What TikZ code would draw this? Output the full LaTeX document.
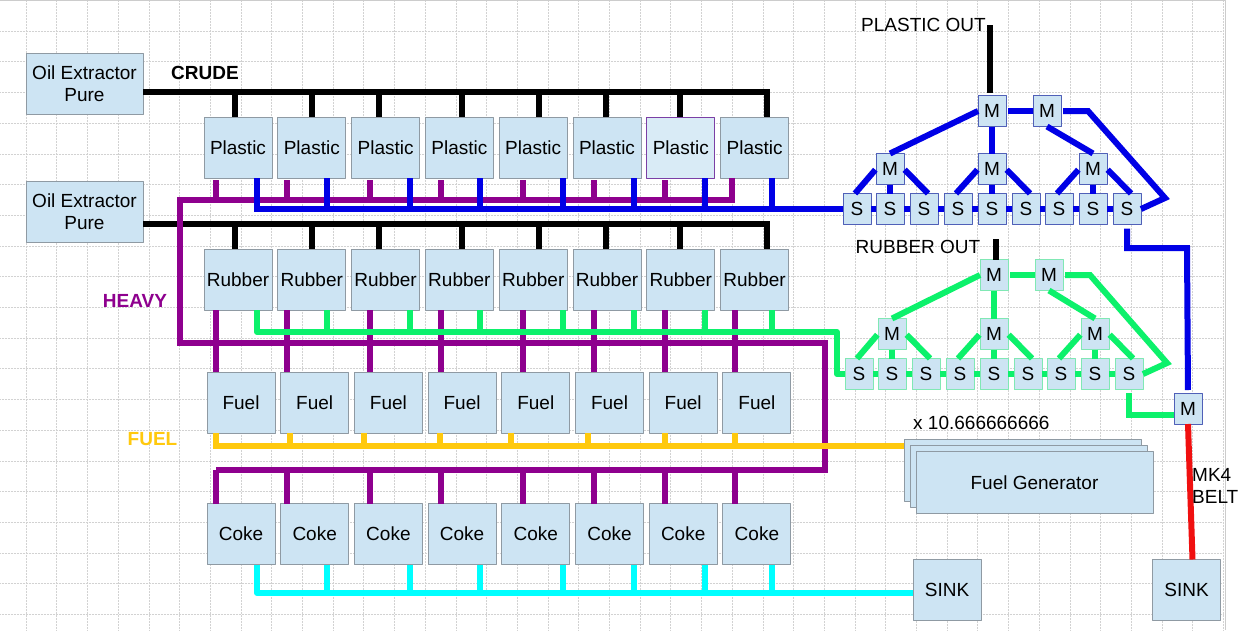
\documentclass[tikz,border=0pt]{standalone}
\usepackage{fontspec}
\setmainfont{Liberation Sans}
\definecolor{boxfill}{HTML}{CDE4F3}
\definecolor{boxedge}{HTML}{8F9AA3}
\definecolor{seledge}{HTML}{7B3FA5}
\definecolor{wireblue}{HTML}{0000E6}
\definecolor{wireheavy}{HTML}{8E008E}
\definecolor{wiregreen}{HTML}{0CF16B}
\definecolor{wirefuel}{HTML}{FFC90E}
\definecolor{wirecoke}{HTML}{00FFFF}
\definecolor{wirered}{HTML}{F01010}
\definecolor{edgeblue}{HTML}{5060B8}
\definecolor{edgegreen}{HTML}{80E8B4}
\newcommand{\labelfont}{\fontsize{19}{22}\selectfont}
\newcommand{\treefont}{\fontsize{19}{22}\selectfont}
\tikzset{
	box/.style={draw=boxedge,fill=boxfill,line width=1pt,minimum width=68pt,minimum height=61pt,inner sep=0pt,outer sep=0pt,align=center,font=\labelfont},
	boxsel/.style={box,draw=seledge,fill=boxfill!75!white},
	extractor/.style={box,minimum width=117pt},
	genbox/.style={box,minimum width=237pt},
	sinkbox/.style={box},
	treebox/.style={draw=#1,fill=boxfill,line width=1pt,minimum width=28pt,minimum height=31pt,inner sep=0pt,outer sep=0pt,font=\treefont},
	textlab/.style={inner sep=0pt,font=\labelfont,align=left},
	boldlab/.style={inner sep=0pt,font=\labelfont\bfseries},
	wire/.style={line width=6pt,draw=#1,line join=miter},
	softwire/.style={line width=6pt,draw=#1},
	treewire/.style={line width=6pt,draw=#1,line join=miter}
}
\begin{document}
\begin{tikzpicture}[x=1pt,y=-1pt,line join=round]
	\useasboundingbox (0,0) rectangle (1243,630);
	\fill[white] (0,0) rectangle (1243,630);
	\foreach \k in {0,...,39} \draw[gray!35,line width=0.5pt,densely dotted] (26+30.7*\k,1)--(26+30.7*\k,630);
	\foreach \k in {1,...,20} \draw[gray!35,line width=0.5pt,densely dotted] (0,0.3+30.7*\k)--(1224,0.3+30.7*\k);
	\draw[gray!40,line width=1pt] (0,0.5)--(1225,0.5)--(1225,630);

	\node[extractor] (oil1) at (84.5,83.5) {Oil Extractor\\Pure};
	\node[extractor] (oil2) at (84.5,212) {Oil Extractor\\Pure};
	\foreach \i/\st in {1/box,2/box,3/box,4/box,5/box,6/box,7/boxsel,8/box}
		\node[\st] (plastic\i) at (238+73.8*\i-73.8,147.5) {Plastic};
	\foreach \i in {1,...,8} {
		\node[box] (rubber\i) at (238+73.8*\i-73.8,279.5) {Rubber};
		\node[box] (fuel\i) at (241+73.7*\i-73.7,402.5) {Fuel};
		\node[box] (coke\i) at (241+73.7*\i-73.7,534) {Coke};
	}
	\node[sinkbox] (sink1) at (947,590) {SINK};
	\node[sinkbox] (sink2) at (1186.5,590) {SINK};
	\node[genbox,minimum height=62pt] (gena) at (1022.5,470) {};
	\node[genbox,minimum height=62pt] (genb) at (1028.5,476) {};
	\node[genbox,minimum height=62pt] (gen) at (1034.5,482.5) {Fuel Generator};

	\coordinate (crudeA) at (767,92);
	\coordinate (crudeB) at (767,224);
	\coordinate (heavyA) at (180,200);
	\coordinate (heavyB) at (180,343);
	\coordinate (heavyC) at (825,343);
	\coordinate (heavyD) at (825,470);
	\coordinate (heavyE) at (216,470);
	\coordinate (blueA) at (257,209);
	\coordinate (greenA) at (257,332);
	\coordinate (greenB) at (837,332);
	\coordinate (fuelA) at (216,446);
	\coordinate (cokeA) at (257,593);

	\draw[wire=black] (oil1.east |- crudeA) -- (crudeA) -- (crudeA |- plastic8.north);
	\draw[wire=black] (oil2.east |- crudeB) -- (crudeB) -- (crudeB |- rubber8.north);
	\foreach \i/\tx in {1/235,2/312,3/379,4/462,5/539,6/606,7/680} {
		\draw[wire=black] (\tx,0 |- crudeA) -- (\tx,0 |- plastic\i.north);
		\draw[wire=black] (\tx,0 |- crudeB) -- (\tx,0 |- rubber\i.north);
	}

	\foreach \i/\tx in {1/216,2/287,3/370,4/441,5/523,6/594,7/665}
		\draw[wire=wireheavy,shorten <=2pt] (\tx,0 |- plastic\i.south) -- (\tx,0 |- heavyA);
	\foreach \i/\tx in {1/216,2/287,3/370,4/441,5/523,6/594,7/665,8/735} {
		\draw[wire=wireheavy] (\tx,0 |- rubber\i.south) -- (\tx,0 |- fuel\i.north);
		\draw[wire=wireheavy] (\tx,0 |- heavyE) -- (\tx,0 |- coke\i.north);
	}
	\draw[wire=wireheavy] (732,0 |- plastic8.south) -- (732,0 |- heavyA) -- (heavyA) -- (heavyB) -- (heavyC) -- (heavyD) -- (heavyE);

	\draw[wire=wireblue] (blueA |- plastic1.south) -- (blueA) -- (843,209);
	\draw[softwire=wiregreen] (greenA |- rubber1.south) -- (greenA) -- (greenB) -- (837,374) -- (845,374);
	\foreach \i/\tx in {2/327,3/410,4/480,5/563,6/634,7/705,8/772} {
		\draw[wire=wireblue] (\tx,0 |- plastic\i.south) -- (\tx,0 |- blueA);
		\draw[wire=wiregreen] (\tx,0 |- rubber\i.south) -- (\tx,0 |- greenA);
		\draw[wire=wirecoke] (\tx,0 |- coke\i.south) -- (\tx,0 |- cokeA);
	}
	\foreach \i/\tx in {2/290,3/364,4/440,5/511,6/588,7/665,8/735}
		\draw[wire=wirefuel] (\tx,0 |- fuel\i.south) -- (\tx,0 |- fuelA);
	\draw[wire=wirefuel] (fuelA |- fuel1.south) -- (fuelA) -- (gena.west |- fuelA);
	\draw[softwire=wirecoke] (cokeA |- coke1.south) -- (cokeA) -- (sink1.west |- cokeA);

	\foreach \t/\dx/\dy/\dt/\col/\edge in {p/0/0/0/wireblue/edgeblue,r/2/165/164/wiregreen/edgegreen} {
		\foreach \i/\sx in {1/857,2/890,3/924,4/958,5/992,6/1026,7/1059,8/1093,9/1127}
			\node[treebox=\edge] (\t s\i) at (\sx+\dx,209+\dy) {S};
		\foreach \i/\mx in {1/890,2/992,3/1093}
			\node[treebox=\edge] (\t m\i) at (\mx+\dx,169+\dy) {M};
		\node[treebox=\edge] (\t top) at (992+\dx,111+\dt) {M};
		\node[treebox=\edge] (\t side) at (1047+\dx,111+\dt) {M};
		\coordinate (\t bendA) at (1088+\dx,111+\dt);
		\coordinate (\t bendB) at (1165+\dx,198+\dy);
		\foreach \a/\b in {1/2,2/3,3/4,4/5,5/6,6/7,7/8,8/9}
			\draw[treewire=\col] (\t s\a.east) -- (\t s\b.west);
		\foreach \m/\a/\b/\c in {1/1/2/3,2/4/5/6,3/7/8/9} {
			\draw[treewire=\col,shorten >=1pt] ([xshift=-2pt]\t s\a.north) -- (\t m\m.west);
			\draw[treewire=\col] (\t m\m.south) -- (\t s\b.north);
			\draw[treewire=\col,shorten <=1pt] (\t m\m.east) -- ([xshift=4pt]\t s\c.north);
		}
		\draw[treewire=\col] (\t m1.north) -- (\t top.west);
		\draw[treewire=\col] (\t top.south) -- (\t m2.north);
		\draw[treewire=\col,shorten <=2pt] (\t top.east) -- (\t side.west);
		\draw[treewire=\col] (\t side.south) -- (\t m3.north);
		\draw[treewire=\col,shorten <=2pt] (\t side.east) -- (\t bendA) -- (\t bendB) -- (\t s9.east);
	}

	\node[treebox=edgeblue] (mfinal) at (1188,408.5) {M};
	\coordinate (plasticout) at (990,25);
	\coordinate (rubberout) at (996,239);
	\coordinate (blueB) at (1187,248);
	\coordinate (greenC) at (1130,415);
	\draw[wire=black,shorten >=3pt] (plasticout) -- (plasticout |- ptop.north);
	\draw[wire=black] (rubberout) -- (rubberout |- rtop.north);
	\draw[wire=wireblue,shorten <=4pt,shorten >=3pt] (ps9.south) -- (ps9.south |- blueB) -- (blueB) -- (mfinal.north);
	\draw[wire=wiregreen,shorten <=3pt] (rs9.south) -- (rs9.south |- greenC) -- (mfinal.west |- greenC);
	\draw[wire=wirered] (mfinal.south) -- ([xshift=6pt]sink2.north);

	\node[boldlab] (crudelab) at (205,72.5) {CRUDE};
	\node[boldlab,text=wireheavy] (heavylab) at (135,301) {HEAVY};
	\node[boldlab,text=wirefuel] (fuellab) at (152.5,439) {FUEL};
	\node[textlab] (plasticlab) at (923.5,25) {PLASTIC OUT};
	\node[textlab] (rubberlab) at (918,247) {RUBBER OUT};
	\node[textlab,anchor=west] (countlab) at (913,423) {x 10.666666666};
	\node[textlab,anchor=west] (beltlab) at (1192,486) {MK4\\BELT};
\end{tikzpicture}
\end{document}
